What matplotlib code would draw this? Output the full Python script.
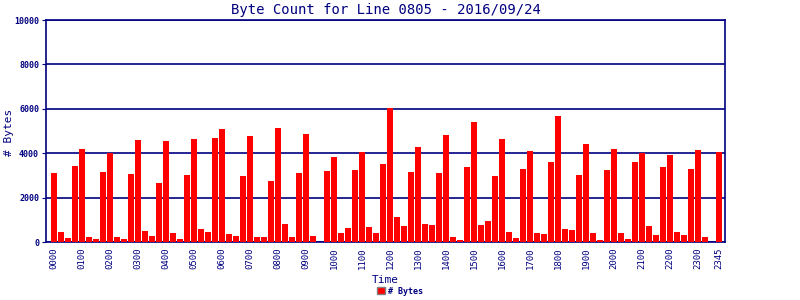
import numpy as np
import matplotlib.pyplot as plt

# byte counts, one per 15 minutes, 0000 .. 2345
byte_counts = [
    3100, 470, 180, 3430,   4190, 230, 140, 3150,
    3990, 230, 140, 3060,   4600, 500, 270, 2660,
    4550, 400, 140, 3020,   4650, 590, 450, 4700,
    5090, 360, 270, 2970,   4770, 230, 230, 2750,
    5130, 810, 230, 3110,   4860, 270, 0, 3200,
    3830, 400, 630, 3240,   4050, 680, 400, 3510,
    6030, 1130, 720, 3150,  4280, 810, 770, 3110,
    4820, 230, 90, 3380,    5400, 770, 950, 2970,
    4640, 450, 180, 3290,   4100, 400, 360, 3600,
    5670, 590, 540, 3020,   4410, 400, 90, 3240,
    4190, 400, 140, 3600,   3990, 720, 320, 3380,
    3920, 450, 320, 3290,   4140, 230, 0, 4050,
]
slot_labels = ["%02d%02d" % (h, m) for h in range(24) for m in (0, 15, 30, 45)]
tick_labels = ["%02d00" % h for h in range(24)] + ["2345"]
y_ticks = [0, 2000, 4000, 6000, 8000, 10000]

navy = "#000080"
plt.rcParams["font.family"] = "DejaVu Sans Mono"

fig = plt.figure(figsize=(8, 3), dpi=100)
ax = fig.add_axes([0.0575, 0.1933, 0.8488, 0.74])

x = np.arange(len(byte_counts))
ax.bar(x, byte_counts, width=0.86, color="#ff0000", label="# Bytes", zorder=3)

ax.set_xlim(-1.14, 95.86)
ax.set_ylim(0, 10000)
ax.set_yticks(y_ticks)
ax.set_yticklabels([str(v) for v in y_ticks], fontsize=6, fontweight="bold", color=navy)
ax.grid(axis="y", color=navy, linewidth=1.2, zorder=1)

tick_pos = [slot_labels.index(t) for t in tick_labels]
ax.set_xticks(tick_pos)
ax.set_xticklabels(tick_labels, rotation=90, fontsize=6.5, color=navy)
ax.tick_params(axis="x", length=0, pad=4)
ax.tick_params(axis="y", length=3, color=navy, pad=2)

for s in ax.spines.values():
    s.set_color(navy)
    s.set_linewidth(1.2)

ax.set_title("Byte Count for Line 0805 - 2016/09/24", fontsize=10, color=navy, pad=4)
ax.set_xlabel("Time", fontsize=8, color=navy, labelpad=4)
fig.text(0.011, 0.56, "# Bytes", rotation=90, fontsize=8, color=navy,
         ha="center", va="center")

leg = fig.legend(loc="lower center", bbox_to_anchor=(0.5, -0.01), frameon=False,
                 fontsize=6, handlelength=1.0, handleheight=0.8, handletextpad=0.4)
for t in leg.get_texts():
    t.set_color(navy)
    t.set_fontweight("bold")
for p in leg.get_patches():
    p.set_edgecolor("#808080")

fig.savefig("out.png", dpi=100)
